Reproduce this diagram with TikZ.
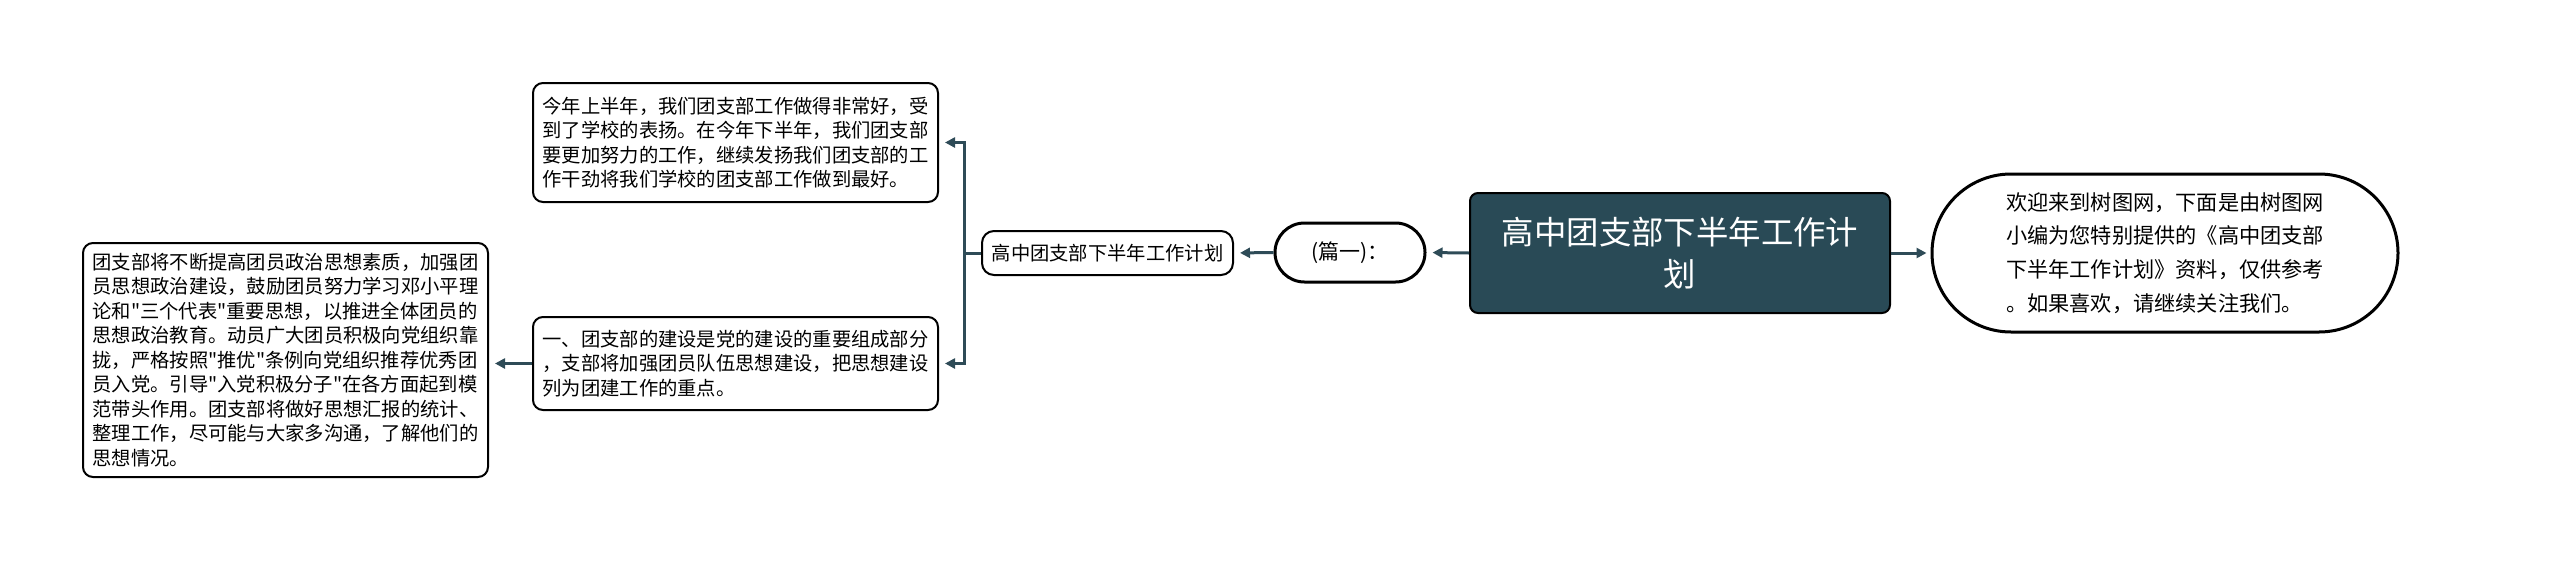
\documentclass[tikz,border=0pt]{standalone}
\usepackage{fontspec}
\setmainfont{Noto Sans CJK SC}[Ligatures=TeXOff]
\usetikzlibrary{arrows.meta, positioning, shapes.misc, calc}
\definecolor{cteal}{HTML}{294A56}
\definecolor{cline}{HTML}{2E4B57}
\tikzset{
  every picture/.style={line width=1pt},
  card/.style={draw=black, fill=white, rounded corners=5pt, align=left, inner sep=0pt,
    minimum width=202.5pt, font=\fontsize{9.65pt}{12.25pt}\selectfont},
  topic/.style={draw=black, fill=cteal, text=white, rounded corners=4pt, align=center, inner sep=0pt,
    minimum width=210pt, minimum height=60pt, font=\fontsize{16.2pt}{21pt}\selectfont},
  pill/.style={draw=black, line width=1.5pt, rounded rectangle, align=left, inner sep=0pt},
  link/.style={-{Triangle[length=5pt, width=5pt]}, draw=cline, line width=1.5pt, shorten >=3pt},
}

\begin{document}
\begin{tikzpicture}[x=0.5pt, y=-0.5pt]
  \useasboundingbox (0,0) rectangle (2560,568);
  % centre and right side
  \node[topic] (root) at (1680,253) {高中团支部下半年工作计\\划};
  \node[pill, minimum width=233pt, minimum height=79pt, font=\fontsize{10.6pt}{16.8pt}\selectfont]
    (intro) at (2165,253) {欢迎来到树图网，下面是由树图网\\小编为您特别提供的《高中团支部\\下半年工作计划》资料，仅供参考\\。如果喜欢，请继续关注我们。};
  \node[pill, minimum width=75pt, minimum height=29.5pt, font=\fontsize{10.5pt}{13pt}\selectfont]
    (part) at (1350,252.5) {(篇一)：};
  \node[card, minimum width=125.5pt, minimum height=22pt, rounded corners=6pt] (plan) at (1107.5,253) {高中团支部下半年工作计划};
  % left side
  \node[card, minimum height=59.5pt] (upper) at (735.5,142.5)
    {今年上半年，我们团支部工作做得非常好，受\\到了学校的表扬。在今年下半年，我们团支部\\要更加努力的工作，继续发扬我们团支部的工\\作干劲将我们学校的团支部工作做到最好。};
  \node[card, minimum height=46.5pt] (lower) at (735.5,363.5)
    {一、团支部的建设是党的建设的重要组成部分\\，支部将加强团员队伍思想建设，把思想建设\\列为团建工作的重点。};
  \node[card, minimum height=117pt] (detail) at (285.5,360)
    {团支部将不断提高团员政治思想素质，加强团\\员思想政治建设，鼓励团员努力学习邓小平理\\论和"三个代表"重要思想，以推进全体团员的\\思想政治教育。动员广大团员积极向党组织靠\\拢，严格按照"推优"条例向党组织推荐优秀团\\员入党。引导"入党积极分子"在各方面起到模\\范带头作用。团支部将做好思想汇报的统计、\\整理工作，尽可能与大家多沟通，了解他们的\\思想情况。};
  % connectors
  \coordinate (fork) at ($(plan.west)+(-17,0)$);
  \draw[link, shorten >=2pt] (root.east) -- (intro.west);
  \draw[link] (root.west) -- (part.east);
  \draw[link] (part.west) -- (plan.east);
  \draw[link] (plan.west) -- (fork) |- (upper.east);
  \draw[link] (fork) |- (lower.east);
  \draw[link] (lower.west) -- (lower.west -| detail.east);
\end{tikzpicture}
\end{document}
